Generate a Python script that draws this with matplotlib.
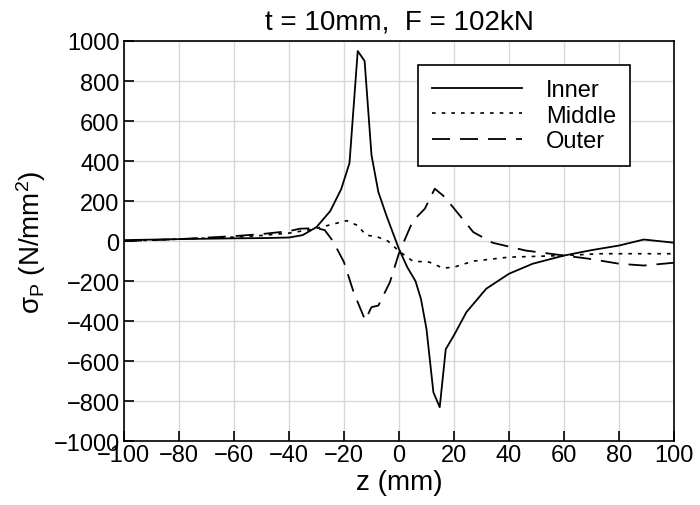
import numpy as np
import matplotlib.pyplot as plt

plt.rcParams['font.family'] = ['Liberation Sans', 'DejaVu Sans']
plt.rcParams['mathtext.fontset'] = 'custom'
plt.rcParams['mathtext.rm'] = 'Liberation Sans'
plt.rcParams['mathtext.it'] = 'Liberation Sans:italic'

# values
inner_z = [-100, -80, -60, -50, -40, -35, -30, -25, -21, -18, -15, -12.5, -10, -7.5,
           -4.5, 0, 3, 6, 8, 10, 12.5, 14.8, 17, 20, 24.5, 31.7, 40, 48.6, 60, 70, 80, 89, 100]
inner_s = [5, 10, 14, 15, 18, 30, 70, 150, 260, 390, 950, 900, 430, 245,
           125, -40, -130, -200, -290, -440, -755, -830, -540, -470, -355, -238, -163, -113, -72, -45, -22, 8, -8]

middle_z = [-100, -80, -60, -50, -40, -31, -24, -19, -15, -12, -8, -4, 0, 5, 11, 16, 20, 27, 40, 60, 73, 100]
middle_s = [0, 10, 20, 28, 40, 60, 85, 102, 78, 30, 22, 0, -50, -100, -105, -135, -130, -100, -80, -72, -63, -63]

outer_z = [-100, -80, -60, -50, -40, -36, -30, -27, -24, -20, -16.5, -12.3, -10, -7.5, -3.3, 0, 5, 9.4,
           13, 16, 19.6, 27, 34, 46, 60, 69, 80, 89, 100]
outer_s = [0, 10, 25, 35, 50, 62, 65, 55, 0, -105, -255, -395, -330, -322, -205, -60, 100, 162,
           262, 228, 170, 45, -8, -47, -72, -88, -113, -122, -108]

fig = plt.figure(figsize=(7, 5.06), dpi=100)
ax = fig.add_axes([0.177, 0.126, 0.786, 0.791])

ax.plot(inner_z, inner_s, color='black', lw=1.3, label='Inner')
ax.plot(middle_z, middle_s, color='black', lw=1.2, dashes=(2.2, 3.6), label='Middle')
ax.plot(outer_z, outer_s, color='black', lw=1.3, dashes=(10, 5.5), label='Outer')

ax.set_xlim(-100, 100)
ax.set_ylim(-1000, 1000)
ax.set_xticks(np.arange(-100, 101, 20))
ax.set_yticks(np.arange(-1000, 1001, 200))
ax.set_xticklabels([str(v).replace('-', '\u2212') for v in range(-100, 101, 20)])
ax.set_yticklabels([str(v).replace('-', '\u2212') for v in range(-1000, 1001, 200)])
ax.tick_params(direction='in', length=7, width=1.2, labelsize=17, pad=2)
ax.tick_params(axis='y', pad=3)
ax.grid(True, color='#d8d8d8', lw=1)
for sp in ax.spines.values():
    sp.set_linewidth(1.2)

ax.set_title('t = 10mm,  F = 102kN', fontsize=20, pad=9)
ax.set_xlabel('z (mm)', fontsize=20, labelpad=2)
ax.set_ylabel('\u03c3$_{\\rm P}$ (N/mm$^2$)', fontsize=20, labelpad=4)

leg = ax.legend(loc='upper right', bbox_to_anchor=(0.92, 0.94), borderaxespad=0, fontsize=17,
                fancybox=False, framealpha=1, edgecolor='black', handlelength=3.8,
                handletextpad=1.0, borderpad=0.6, labelspacing=0.15)
leg.get_frame().set_linewidth(1.2)

fig.savefig('out.png', dpi=100)
